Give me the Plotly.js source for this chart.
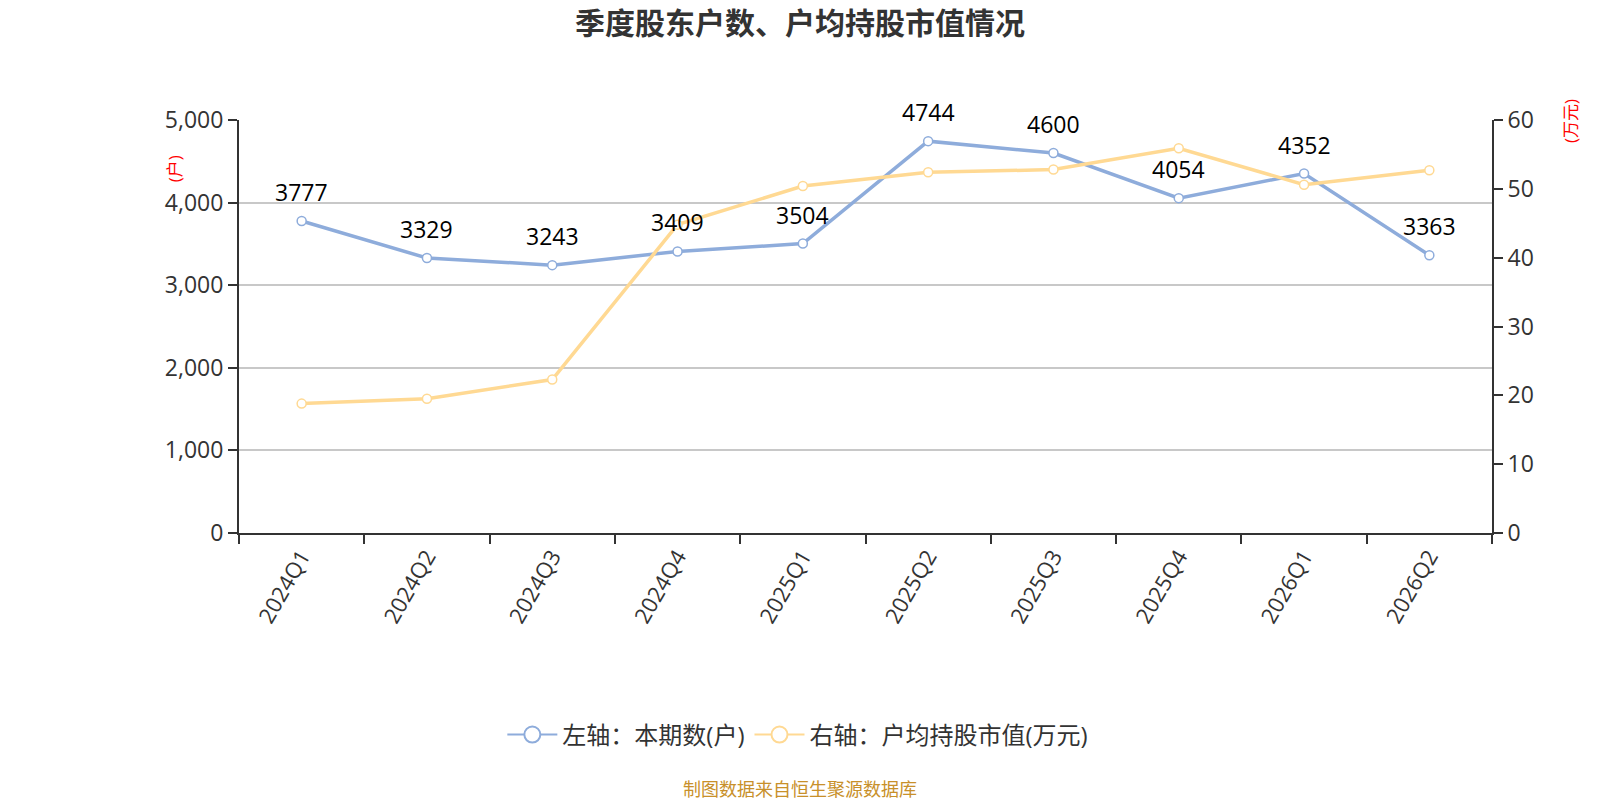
<!DOCTYPE html>
<html>
<head>
<meta charset="utf-8">
<script src="https://cdn.plot.ly/plotly-3.0.1.min.js"></script>
<style>
  html, body { margin: 0; padding: 0; background: #fff; }
  #chart { width: 1600px; height: 800px; }
</style>
</head>
<body>
<div id="chart"></div>
<script>
const quarters = ["2024Q1", "2024Q2", "2024Q3", "2024Q4", "2025Q1", "2025Q2", "2025Q3", "2025Q4", "2026Q1", "2026Q2"];
const holders = [3777, 3329, 3243, 3409, 3504, 4744, 4600, 4054, 4352, 3363];
const avgValue = [18.8, 19.5, 22.3, 44.8, 50.4, 52.4, 52.8, 55.9, 50.6, 52.7];

const blue = "#8eacdb";
const orange = "#ffd993";
const font = "'Open Sans', 'Noto Sans CJK SC', sans-serif";

const traces = [
  {
    x: quarters,
    y: holders,
    type: "scatter",
    mode: "lines+markers",
    name: "左轴：本期数(户)",
    line: { color: blue, width: 3.5 },
    marker: { size: 9, color: "#fff", line: { color: blue, width: 1.5 } },
    yaxis: "y",
    showlegend: false,
  },
  {
    x: quarters,
    y: avgValue,
    type: "scatter",
    mode: "lines+markers",
    name: "右轴：户均持股市值(万元)",
    line: { color: orange, width: 3.5 },
    marker: { size: 9, color: "#fff", line: { color: orange, width: 1.5 } },
    yaxis: "y2",
    showlegend: false,
  },
  // legend entries with bigger symbols
  {
    x: [null],
    y: [null],
    type: "scatter",
    mode: "lines+markers",
    name: "左轴：本期数(户)",
    line: { color: blue, width: 2 },
    marker: { size: 18, color: "#fff", line: { color: blue, width: 2 } },
  },
  {
    x: [null],
    y: [null],
    type: "scatter",
    mode: "lines+markers",
    name: "右轴：户均持股市值(万元)",
    line: { color: orange, width: 2 },
    marker: { size: 18, color: "#fff", line: { color: orange, width: 2 } },
  },
];

// value labels above the blue points
const labels = quarters.map((q, i) => ({
  x: q,
  y: holders[i],
  xref: "x",
  yref: "y",
  text: String(holders[i]),
  showarrow: false,
  yshift: 29,
  font: { family: font, size: 23, color: "#000" },
}));

const axisFont = { family: font, size: 23, color: "#333" };

const layout = {
  width: 1600,
  height: 800,
  margin: { l: 239, r: 108, t: 120, b: 267 },
  paper_bgcolor: "#fff",
  plot_bgcolor: "#fff",
  font: { family: font, color: "#333" },
  title: {
    text: "<b>季度股东户数、户均持股市值情况</b>",
    x: 0.5,
    xanchor: "center",
    y: 0.971,
    yanchor: "middle",
    font: { family: font, size: 30, color: "#333" },
  },
  xaxis: {
    type: "category",
    range: [-0.5, 9.5],
    tickson: "boundaries",
    ticks: "outside",
    ticklen: 9,
    tickwidth: 2,
    tickcolor: "#333",
    showline: true,
    linecolor: "#333",
    linewidth: 2,
    showgrid: false,
    tickangle: -60,
    tickfont: { family: font, size: 22, color: "#333" },
  },
  yaxis: {
    range: [0, 5000],
    dtick: 1000,
    tickformat: ",",
    ticks: "outside",
    ticklen: 9,
    tickwidth: 2,
    tickcolor: "#333",
    showline: true,
    linecolor: "#333",
    linewidth: 2,
    gridcolor: "#c8c8c8",
    gridwidth: 1.5,
    zeroline: false,
    tickfont: axisFont,
  },
  yaxis2: {
    range: [0, 60],
    dtick: 10,
    overlaying: "y",
    side: "right",
    ticks: "outside",
    ticklen: 9,
    tickwidth: 2,
    tickcolor: "#333",
    showline: true,
    linecolor: "#333",
    linewidth: 2,
    showgrid: false,
    zeroline: false,
    tickfont: axisFont,
  },
  showlegend: true,
  legend: {
    orientation: "h",
    x: 0.446,
    xanchor: "center",
    y: -0.489,
    yanchor: "middle",
    font: { family: font, size: 24, color: "#333" },
    itemwidth: 50,
  },
  annotations: [
    ...labels,
    {
      text: "(户)",
      xref: "paper",
      yref: "paper",
      x: -0.062,
      y: 0.92,
      textangle: -90,
      showarrow: false,
      font: { family: font, size: 17, color: "#ff0000" },
    },
    {
      text: "(万元)",
      xref: "paper",
      yref: "paper",
      x: 1.074,
      y: 1.056,
      textangle: -90,
      showarrow: false,
      font: { family: font, size: 17, color: "#ff0000" },
    },
    {
      text: "制图数据来自恒生聚源数据库",
      xref: "paper",
      yref: "paper",
      x: 0.448,
      y: -0.62,
      xanchor: "center",
      yanchor: "middle",
      showarrow: false,
      font: { family: font, size: 18, color: "#c8902a" },
    },
  ],
};

Plotly.newPlot("chart", traces, layout, { displayModeBar: false, responsive: false });
</script>
</body>
</html>
